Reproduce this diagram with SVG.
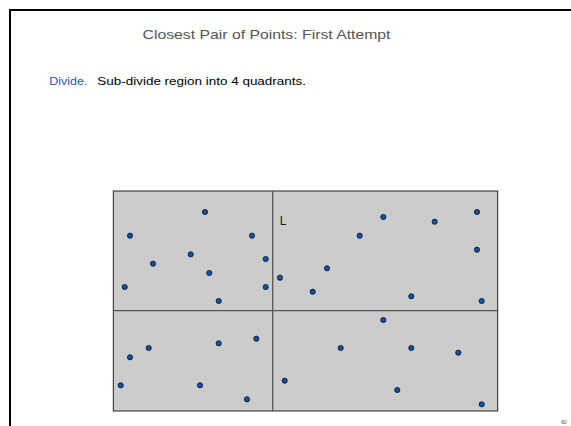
<svg xmlns="http://www.w3.org/2000/svg" width="571" height="426" viewBox="0 0 571 426">
<style>
.t{font-family:"Liberation Sans",Arial,sans-serif}
.pt{fill:#0a52b4;stroke:#111;stroke-width:0.8}
.div{stroke:#555;stroke-width:1.3}
</style>
<rect width="571" height="426" fill="#fff"/>
<path d="M10 426V10H571" fill="none" stroke="#000" stroke-width="2"/>
<text class="t" x="266.5" y="39" font-size="13" fill="#555" text-anchor="middle" textLength="248" lengthAdjust="spacingAndGlyphs">Closest Pair of Points:  First Attempt</text>
<text class="t" x="49.3" y="84.5" font-size="11" fill="#1f55b5" textLength="38" lengthAdjust="spacingAndGlyphs">Divide.</text>
<text class="t" x="97.3" y="84.5" font-size="11" fill="#000" textLength="208.7" lengthAdjust="spacingAndGlyphs">Sub-divide region into 4 quadrants.</text>
<g id="region">
<rect x="113.3" y="191" width="384.4" height="220" fill="#cccccc" stroke="#222" stroke-width="1"/>
</g>
<g id="dividers">
<line class="div" x1="272.7" y1="191" x2="272.7" y2="411"/>
<line class="div" x1="113.3" y1="310.7" x2="497.7" y2="310.7"/>
</g>
<text class="t" x="279.8" y="225" font-size="12" fill="#222">L</text>
<g id="points">
<circle class="pt" cx="205" cy="212" r="2.6"/>
<circle class="pt" cx="130" cy="235.7" r="2.6"/>
<circle class="pt" cx="252" cy="235.7" r="2.6"/>
<circle class="pt" cx="190.7" cy="254.3" r="2.6"/>
<circle class="pt" cx="153" cy="263.7" r="2.6"/>
<circle class="pt" cx="265.7" cy="259" r="2.6"/>
<circle class="pt" cx="209.3" cy="273" r="2.6"/>
<circle class="pt" cx="124.7" cy="287" r="2.6"/>
<circle class="pt" cx="265.7" cy="287" r="2.6"/>
<circle class="pt" cx="218.7" cy="301" r="2.6"/>
<circle class="pt" cx="383.3" cy="217" r="2.6"/>
<circle class="pt" cx="434.7" cy="221.7" r="2.6"/>
<circle class="pt" cx="477" cy="212" r="2.6"/>
<circle class="pt" cx="359.7" cy="235.7" r="2.6"/>
<circle class="pt" cx="477" cy="249.7" r="2.6"/>
<circle class="pt" cx="327" cy="268.3" r="2.6"/>
<circle class="pt" cx="280" cy="277.7" r="2.6"/>
<circle class="pt" cx="312.7" cy="291.7" r="2.6"/>
<circle class="pt" cx="411.3" cy="296.3" r="2.6"/>
<circle class="pt" cx="481.7" cy="301" r="2.6"/>
<circle class="pt" cx="218.7" cy="343.3" r="2.6"/>
<circle class="pt" cx="256.3" cy="338.7" r="2.6"/>
<circle class="pt" cx="148.7" cy="348" r="2.6"/>
<circle class="pt" cx="130" cy="357.3" r="2.6"/>
<circle class="pt" cx="120.7" cy="385.3" r="2.6"/>
<circle class="pt" cx="200" cy="385.3" r="2.6"/>
<circle class="pt" cx="247" cy="399.3" r="2.6"/>
<circle class="pt" cx="383.3" cy="320" r="2.6"/>
<circle class="pt" cx="340.7" cy="348" r="2.6"/>
<circle class="pt" cx="411.3" cy="348" r="2.6"/>
<circle class="pt" cx="458.3" cy="352.7" r="2.6"/>
<circle class="pt" cx="284.7" cy="380.7" r="2.6"/>
<circle class="pt" cx="397.3" cy="390" r="2.6"/>
<circle class="pt" cx="481.7" cy="404.3" r="2.6"/>
</g>
<text class="t" x="564" y="424" font-size="5" fill="#444" text-anchor="middle">60</text>
</svg>
